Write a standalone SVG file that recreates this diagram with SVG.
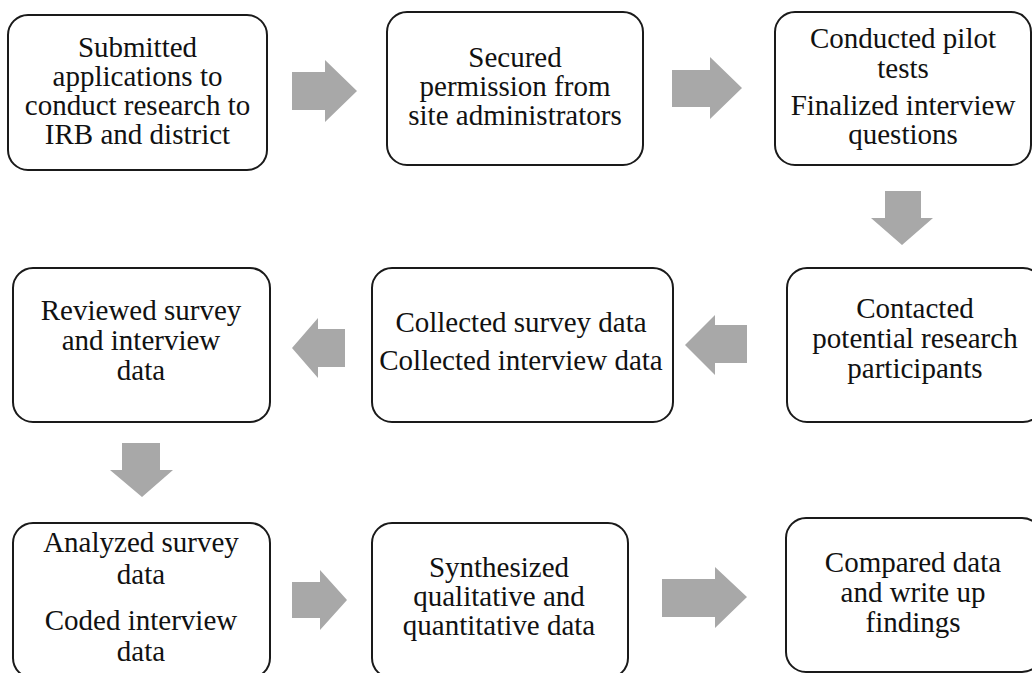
<svg xmlns="http://www.w3.org/2000/svg" width="1032" height="673" viewBox="0 0 1032 673">
  <style>
    .box { fill: #ffffff; stroke: #1a1a1a; stroke-width: 2; }
    .lbl { font-family: "Liberation Serif", "Times New Roman", serif; font-size: 29px; fill: #111111; text-anchor: middle; }
    .arrow { fill: #a8a8a8; stroke: none; }
  </style>
  <rect width="1032" height="673" fill="#ffffff"/>

  <!-- block arrows between steps -->
  <g id="connectors">
    <polygon class="arrow" points="292,72 325,72 325,60 357,91 325,122 325,110 292,110"/>
    <polygon class="arrow" points="672,70 710,70 710,57 742,88 710,119 710,107 672,107"/>
    <polygon class="arrow" points="885,191 921,191 921,218 933,218 902,245 871,218 885,218"/>
    <polygon class="arrow" points="747,325 715,325 715,315 685,345 715,375 715,363 747,363"/>
    <polygon class="arrow" points="345,329 318,329 318,318 292,348 318,378 318,367 345,367"/>
    <polygon class="arrow" points="122,443 160,443 160,470 173,470 142,497 110,470 122,470"/>
    <polygon class="arrow" points="292,582 320,582 320,570 347,600 320,630 320,618 292,618"/>
    <polygon class="arrow" points="662,579 715,579 715,567 747,597 715,628 715,617 662,617"/>
  </g>

  <g id="step-submitted">
    <rect class="box" x="8" y="15" width="259" height="155" rx="20"/>
    <text class="lbl" x="137.5" y="56.5">Submitted</text>
    <text class="lbl" x="137.5" y="85.5">applications to</text>
    <text class="lbl" x="137.5" y="114.5">conduct research to</text>
    <text class="lbl" x="137.5" y="143.5">IRB and district</text>
  </g>

  <g id="step-secured">
    <rect class="box" x="387" y="12" width="256" height="153" rx="20"/>
    <text class="lbl" x="515" y="67">Secured</text>
    <text class="lbl" x="515" y="96">permission from</text>
    <text class="lbl" x="515" y="125">site administrators</text>
  </g>

  <g id="step-pilot">
    <rect class="box" x="775" y="12" width="256" height="153" rx="20"/>
    <text class="lbl" x="903" y="48">Conducted pilot</text>
    <text class="lbl" x="903" y="78">tests</text>
    <text class="lbl" x="903" y="115">Finalized interview</text>
    <text class="lbl" x="903" y="144">questions</text>
  </g>

  <g id="step-contacted">
    <rect class="box" x="787" y="268" width="256" height="154" rx="20"/>
    <text class="lbl" x="915" y="318">Contacted</text>
    <text class="lbl" x="915" y="348">potential research</text>
    <text class="lbl" x="915" y="378">participants</text>
  </g>

  <g id="step-collected">
    <rect class="box" x="372" y="268" width="301" height="154" rx="20"/>
    <text class="lbl" x="521" y="332">Collected survey data</text>
    <text class="lbl" x="521" y="370">Collected interview data</text>
  </g>

  <g id="step-reviewed">
    <rect class="box" x="13" y="268" width="257" height="154" rx="20"/>
    <text class="lbl" x="141" y="320">Reviewed survey</text>
    <text class="lbl" x="141" y="350">and interview</text>
    <text class="lbl" x="141" y="380">data</text>
  </g>

  <g id="step-analyzed">
    <rect class="box" x="13" y="523" width="257" height="155" rx="20"/>
    <text class="lbl" x="141" y="552">Analyzed survey</text>
    <text class="lbl" x="141" y="584">data</text>
    <text class="lbl" x="141" y="630">Coded interview</text>
    <text class="lbl" x="141" y="661">data</text>
  </g>

  <g id="step-synthesized">
    <rect class="box" x="372" y="523" width="256" height="155" rx="20"/>
    <text class="lbl" x="499" y="577">Synthesized</text>
    <text class="lbl" x="499" y="606">qualitative and</text>
    <text class="lbl" x="499" y="635">quantitative data</text>
  </g>

  <g id="step-compared">
    <rect class="box" x="786" y="518" width="256" height="154" rx="20"/>
    <text class="lbl" x="913" y="572">Compared data</text>
    <text class="lbl" x="913" y="602">and write up</text>
    <text class="lbl" x="913" y="632">findings</text>
  </g>
</svg>
